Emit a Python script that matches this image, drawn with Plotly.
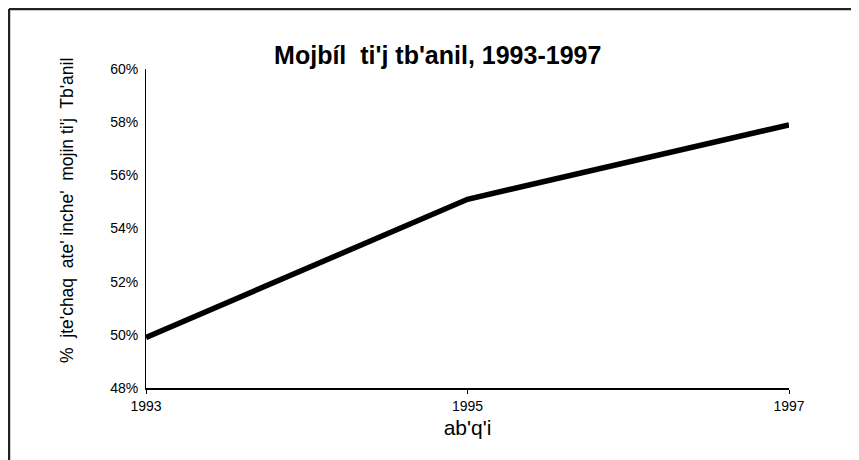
import plotly.graph_objects as go

# Données
annees = [1993, 1995, 1997]
pourcentages = [49.9, 55.1, 57.9]
y_ticks = [48, 50, 52, 54, 56, 58, 60]

titre = "Mojbíl  ti'j tb'anil, 1993-1997"
titre_x = "ab'q'i"
titre_y = "%  jte'chaq  ate' inche'  mojin ti'j  Tb'anil"

fig = go.Figure()

fig.add_trace(go.Scatter(
    x=annees,
    y=pourcentages,
    mode='lines',
    line=dict(color='black', width=5.5),
    showlegend=False
))

# Bordure gauche et haute (cadre du graphique d'origine)
fig.add_shape(type='line', xref='paper', yref='paper',
              x0=-0.2131, x1=-0.2131, y0=1.188, y1=-0.25,
              line=dict(color='#222', width=2.5))
fig.add_shape(type='line', xref='paper', yref='paper',
              x0=-0.2131, x1=1.12, y0=1.188, y1=1.188,
              line=dict(color='#222', width=2.5))

# Titre de l'axe y (annotation pour le placer comme l'original)
fig.add_annotation(
    text=titre_y, textangle=-90,
    xref='paper', yref='paper', x=-0.1229, y=0.558,
    xanchor='center', yanchor='middle', showarrow=False,
    font=dict(size=17.5, color='black')
)

fig.update_layout(
    width=851, height=452,
    margin=dict(l=138, r=70, t=61, b=72),
    plot_bgcolor='white',
    paper_bgcolor='white',
    font=dict(family='Liberation Sans, Arial, sans-serif', color='black'),
    title=dict(text=f"<b>{titre}</b>", x=0.505, xanchor='center',
               y=0.896, yanchor='middle',
               font=dict(size=25, color='black')),
    xaxis=dict(
        range=[1993, 1997],
        tickvals=annees,
        ticktext=[str(a) for a in annees],
        showgrid=False,
        zeroline=False,
        showline=True, linecolor='black', linewidth=1.5,
        ticks='outside', ticklen=4, tickcolor='black',
        tickfont=dict(size=14),
        title=dict(text=titre_x, font=dict(size=21), standoff=8),
    ),
    yaxis=dict(
        range=[48, 60],
        tickvals=y_ticks,
        ticktext=[f"{v}%" for v in y_ticks],
        showgrid=False,
        zeroline=False,
        showline=True, linecolor='black', linewidth=1,
        ticks='',
        tickfont=dict(size=14),
        ticklabelstandoff=4,
    ),
)

fig.write_html("out.html")
